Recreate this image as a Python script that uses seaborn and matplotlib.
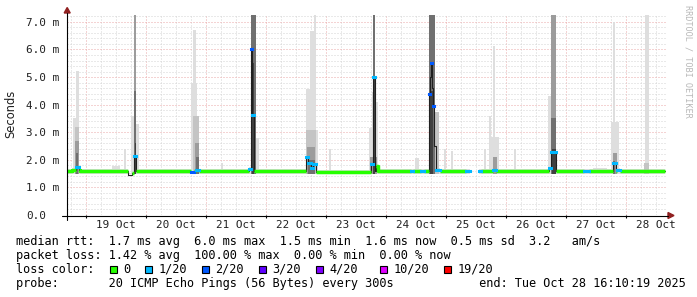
import numpy as np
import matplotlib
matplotlib.use("Agg")
import matplotlib.pyplot as plt
import seaborn as sns
from matplotlib.patches import Rectangle, Polygon
from matplotlib.lines import Line2D
from matplotlib.transforms import blended_transform_factory

# ---------------- data (time in hours since 19 Oct 2025 00:00, values in ms) -------------
med_start = [-7.4, -5.4, -3.8, -2.8, -2.2, 17.0, 18.4, 19.2, 20.0, 42.2, 43.2, 44.2, 45.2,
             65.4, 66.1, 66.7, 67.5, 88.2, 89.1, 90.0, 90.8, 92.0, 114.2, 115.0, 115.6,
             116.0, 117.0, 130.2, 131.0, 134.0, 135.2, 137.2, 137.6, 138.0, 138.4, 139.0,
             139.4, 140.0, 141.8, 152.2, 153.8, 157.2, 158.2, 163.0, 164.2, 185.4, 186.2,
             188.0, 199.4, 201.4, 211.0, 212.0, 212.4, 213.6]
med_value = [1.60, 1.64, 1.74, 1.62, 1.58, 1.45, 1.52, 2.13, 1.59, 1.57, 1.58, 1.64, 1.58,
             1.66, 6.00, 3.61, 1.58, 2.10, 1.90, 1.71, 1.84, 1.56, 1.84, 5.00, 1.60,
             1.76, 1.60, 1.60, 1.60, 1.60, 1.60, 4.40, 5.00, 5.50, 4.60, 3.94,
             2.50, 1.62, 1.60, 1.60, np.nan, 1.60, 1.60, 1.63, 1.60, 1.72, 2.28,
             1.60, 1.60, 1.60, 1.88, 1.60, 1.62, 1.60]
med_loss = [0, 0, 1, 0, 0, -1, 0, 1, 0, 2, 0, 1, 0,
            1, 2, 1, 0, 1, 1, 1, 1, 0, 1, 1, -1,
            0, 0, 1, 0, 1, 0, 2, -1, 2, -1, 2,
            -1, 1, 0, 1, 0, 1, 0, 1, 0, 1, 1,
            0, 1, 0, 1, 0, 1, 0]
med_end = 231.8

smoke_t0 = [-5.0, -3.8, -4.4, -4.2, -4.0, 10.6, 15.4,
            18.2, 19.2, 19.4, 19.6, 20.0,
            42.1, 43.1, 43.1, 43.8, 44.2, 54.1,
            66.0, 66.4, 68.2,
            88.2, 89.8, 91.4, 88.2, 92.2, 88.6, 88.8, 97.4,
            113.5, 114.5, 114.9, 115.1, 115.9, 113.8,
            131.8, 137.4, 137.8, 139.8, 143.5, 146.2,
            159.4, 161.5, 162.2, 163.1, 162.9, 171.4,
            185.1, 186.1, 186.2, 186.4, 203.0,
            210.1, 211.1, 210.9, 210.9,
            223.8, 223.4]
smoke_t1 = [-2.6, -2.6, -2.8, -2.8, -3.0, 13.8, 16.2,
            19.2, 20.2, 20.2, 20.2, 21.3,
            44.5, 44.2, 45.5, 45.4, 45.4, 55.1,
            68.2, 67.6, 69.3,
            89.8, 91.4, 92.2, 92.2, 93.1, 91.8, 91.8, 98.0,
            114.5, 115.4, 115.9, 115.7, 117.0, 116.6,
            133.5, 139.8, 139.2, 141.5, 144.1, 146.9,
            160.2, 162.2, 165.5, 163.9, 164.7, 172.2,
            186.1, 188.2, 188.2, 188.0, 208.6,
            213.5, 211.9, 212.7, 211.9,
            225.5, 225.5]
smoke_top = [3.50, 5.23, 3.20, 2.70, 2.25, 1.76, 2.40,
             3.60, 7.30, 4.50, 2.60, 3.30,
             4.77, 6.70, 3.60, 2.60, 2.10, 1.90,
             7.30, 5.50, 2.80,
             4.55, 6.67, 7.30, 3.07, 3.07, 2.47, 2.00, 2.38,
             3.14, 4.45, 7.30, 5.00, 4.10, 2.10,
             2.06, 7.30, 4.50, 3.73, 2.40, 2.31,
             2.40, 3.60, 2.83, 6.14, 2.10, 2.40,
             4.33, 7.30, 3.50, 2.40, 1.72,
             3.37, 7.00, 2.23, 1.95,
             7.30, 1.87]
smoke_level = [1, 1, 2, 3, 4, 1, 1,
               1, 3, 4, 5, 1,
               1, 1, 2, 3, 4, 1,
               4, 5, 1,
               1, 1, 1, 2, 1, 3, 4, 1,
               1, 1, 4, 5, 1, 3,
               1, 4, 5, 2, 1, 1,
               1, 1, 1, 1, 3, 1,
               1, 3, 4, 5, 1,
               1, 1, 3, 4,
               1, 2]
smoke_floor = 1.47

y_labels = ["0.0", "1.0 m", "2.0 m", "3.0 m", "4.0 m", "5.0 m", "6.0 m", "7.0 m"]
y_values = [0, 1, 2, 3, 4, 5, 6, 7]
day_labels = ["19 Oct", "20 Oct", "21 Oct", "22 Oct", "23 Oct",
              "24 Oct", "25 Oct", "26 Oct", "27 Oct", "28 Oct"]
loss_labels = ["0", "1/20", "2/20", "3/20", "4/20", "10/20", "19/20"]
loss_colors = ["#26ff00", "#00b8ff", "#0059ff", "#5e00ff", "#7e00ff", "#dd00ff", "#ff0000"]
row_rtt = "median rtt:  1.7 ms avg  6.0 ms max  1.5 ms min  1.6 ms now  0.5 ms sd  3.2   am/s"
row_loss = "packet loss: 1.42 % avg  100.00 % max  0.00 % min  0.00 % now"
row_probe = "probe:       20 ICMP Echo Pings (56 Bytes) every 300s            end: Tue Oct 28 16:10:19 2025"

# ---------------- figure ---------------------------------------------------------------
sns.set_style("white")
plt.rcParams["font.family"] = ["DejaVu Sans Mono", "DejaVu Sans"]

W, H = 697, 297
fig = plt.figure(figsize=(W / 100, H / 100), dpi=100)
fig.patch.set_facecolor("white")

def fx(px):
    return px / W

def fy(py):
    return 1 - py / H

ax = fig.add_axes([fx(67), fy(215), fx(667) - fx(67), fy(15) - fy(215)])
for s in ax.spines.values():
    s.set_visible(False)
ax.set_facecolor("white")

# grid
ax.set_xticks(np.arange(0, 232, 24))
ax.set_xticks(np.arange(-6, 232.6, 6), minor=True)
ax.set_yticks(np.arange(0, 7.01, 1))
ax.set_yticks(np.arange(0, 7.25, 0.2), minor=True)
ax.tick_params(which="both", length=0, labelbottom=False, labelleft=False)
ax.grid(which="minor", color="#d4d4d4", linestyle=(0, (1, 2)), linewidth=0.72)
ax.grid(which="major", color="#eba8a8", linestyle=(0, (1, 2)), linewidth=0.72)
ax.set_axisbelow(True)

shades = {1: "#dedede", 2: "#c4c4c4", 3: "#9c9c9c", 4: "#707070", 5: "#404040"}

# baseline smoke band around the median
ends = med_start[1:] + [med_end]
for t0, t1, v in zip(med_start, ends, med_value):
    if np.isnan(v) or v > 2.0:
        continue
    ax.bar(t0, v + 0.08 - smoke_floor, width=t1 - t0, bottom=smoke_floor, align="edge",
           color=shades[1], linewidth=0, zorder=1)

# smoke columns, light first
order = np.argsort(smoke_level, kind="stable")
for i in order:
    ax.bar(smoke_t0[i], smoke_top[i] - smoke_floor, width=smoke_t1[i] - smoke_t0[i],
           bottom=smoke_floor, align="edge", color=shades[smoke_level[i]], linewidth=0,
           zorder=2)

# thin dark median line (seaborn, split at the data gap)
n = len(med_start)
pieces, cur = [], []
for k in range(n):
    if np.isnan(med_value[k]):
        if cur:
            pieces.append(cur)
        cur = []
    else:
        cur.append(k)
if cur:
    pieces.append(cur)
for p in pieces:
    px_ = [med_start[k] for k in p] + [ends[p[-1]]]
    py_ = [med_value[k] for k in p] + [med_value[p[-1]]]
    sns.lineplot(x=px_, y=py_, ax=ax, color="#202020", lw=0.8, drawstyle="steps-post",
                 estimator=None, sort=False, legend=False, zorder=3)

# thick loss-coloured median: green runs joined, lossy samples as separate marks
i = 0
while i < n:
    j = i
    if med_loss[i] == 0:
        while j + 1 < n and med_loss[j + 1] == 0 and not np.isnan(med_value[j + 1]):
            j += 1
    if med_loss[i] >= 0 and not np.isnan(med_value[i]):
        rx = med_start[i:j + 1] + [ends[j]]
        ry = med_value[i:j + 1] + [med_value[j]]
        green = med_loss[i] == 0
        ax.plot(rx, ry, color=loss_colors[med_loss[i]], lw=2.5 if green else 2.2,
                drawstyle="steps-post",
                solid_capstyle="butt" if green else "projecting",
                zorder=4 if green else 5)
    i = j + 1
ax.set_xlabel("")
ax.set_ylabel("")
ax.set_xlim(-7.4, 232.6)
ax.set_ylim(0, 7.25)

# axes lines with arrows
axis_red = "#902020"
fig.add_artist(Line2D([fx(62), fx(668)], [fy(215.5), fy(215.5)], color="black", lw=0.8))
fig.add_artist(Line2D([fx(67.2), fx(67.2)], [fy(219.5), fy(13)], color="black", lw=0.8))
fig.add_artist(Polygon([[fx(668), fy(212.5)], [fx(674), fy(215.5)], [fx(668), fy(218.5)]],
                       closed=True, color=axis_red, transform=fig.transFigure))
fig.add_artist(Polygon([[fx(64.2), fy(13)], [fx(67.2), fy(7.5)], [fx(70.2), fy(13)]],
                       closed=True, color=axis_red, transform=fig.transFigure))
ax.vlines(np.arange(0, 232, 24), -0.11, 0, colors="black", lw=0.8, clip_on=False, zorder=5)

# tick labels
tx = blended_transform_factory(ax.transData, fig.transFigure)
for k, lab in enumerate(day_labels):
    ax.text(12 + 24 * k, fy(228), lab, transform=tx, ha="center", va="baseline",
            fontsize=7.9, family="DejaVu Sans Mono", color="#202020")
ty = blended_transform_factory(fig.transFigure, ax.transData)
for v, lab in zip(y_values, y_labels):
    ax.text(fx(26.5), v - 4 / 27.6, lab, transform=ty, ha="left", va="baseline",
            fontsize=7.9, family="DejaVu Sans Mono", color="#202020")

fig.text(fx(10.5), fy(113.5), "Seconds", rotation=90, ha="center", va="center",
         fontsize=8.3, family="DejaVu Sans", color="#202020")
fig.text(fx(688), fy(61), "RRDTOOL / TOBI OETIKER", rotation=270, ha="center", va="center",
         fontsize=6.1, family="DejaVu Sans Mono", color="#b8b8b8")

# legend rows
cw = 7.12
lfs = 8.52
fig.text(fx(16), fy(245), row_rtt, ha="left", va="baseline", fontsize=lfs,
         family="DejaVu Sans Mono", color="black")
fig.text(fx(16), fy(259), row_loss, ha="left", va="baseline", fontsize=lfs,
         family="DejaVu Sans Mono", color="black")
fig.text(fx(16), fy(273), "loss color:", ha="left", va="baseline", fontsize=lfs,
         family="DejaVu Sans Mono", color="black")
fig.text(fx(16), fy(287), row_probe, ha="left", va="baseline", fontsize=lfs,
         family="DejaVu Sans Mono", color="black")
idx = [15, 20, 28, 36, 44, 53, 62]
for k, (lab, col) in enumerate(zip(loss_labels, loss_colors)):
    x0 = 16 + idx[k] * cw
    fig.add_artist(Rectangle((fx(x0 - 13), fy(272.5)), 7 / W, 7 / H, facecolor=col,
                             edgecolor="black", lw=0.8, transform=fig.transFigure))
    fig.text(fx(x0), fy(273), lab, ha="left", va="baseline", fontsize=lfs,
             family="DejaVu Sans Mono", color="black")

fig.savefig("out.png", dpi=100, facecolor="white")
